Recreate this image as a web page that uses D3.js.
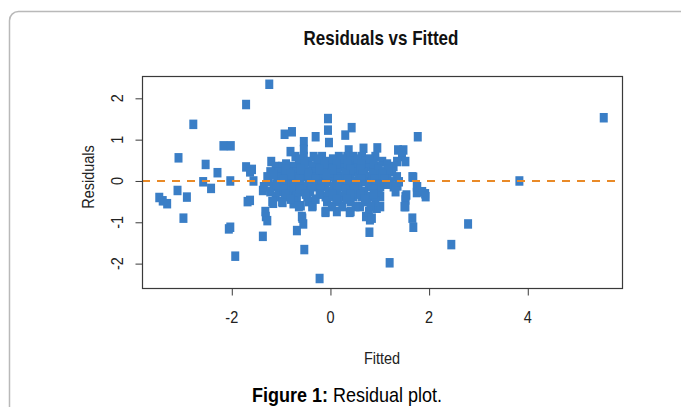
<!DOCTYPE html>
<html>
<head>
<meta charset="utf-8">
<script src="https://cdn.jsdelivr.net/npm/d3@7"></script>
<style>
  body { margin: 0; background: #fff; }
  svg { display: block; font-family: "Liberation Sans", Arial, sans-serif; }
</style>
</head>
<body>
<div id="display"></div>
<script>
// values (fitted, residual)
const outliers = [
  [-1.24, 2.34], [-1.71, 1.85], [-2.78, 1.37], [-2.17, 0.85], [-2.02, 0.85],
  [-3.08, 0.56], [-2.53, 0.40], [-2.29, 0.20], [-1.71, 0.34], [-1.59, 0.28],
  [-1.63, 0.22], [-2.58, -0.02], [-2.03, 0.00], [-2.42, -0.18], [-3.10, -0.23],
  [-2.91, -0.39], [-3.47, -0.40], [-3.40, -0.48], [-3.31, -0.55], [-2.98, -0.90],
  [-2.06, -1.16], [-2.03, -1.12], [-1.93, -1.82], [-1.68, -0.50], [-1.63, -0.47],
  [-1.56, 0.00], [-1.37, -0.23], [-1.37, -1.34], [-1.31, -0.86], [-1.28, -0.96],
  [-0.53, -1.66], [-0.68, -1.20], [-0.58, -0.86], [-0.55, -1.04], [-0.22, -2.36],
  [-1.16, -0.54], [-0.97, -0.52], [-0.75, -0.55], [-0.60, -0.60], [-0.36, -0.60],
  [-0.10, -0.76], [0.13, -0.74], [1.20, -1.98], [0.79, -1.24], [1.68, -1.12],
  [1.50, -0.62], [1.52, -0.46], [1.54, -0.34], [1.75, -0.28], [1.92, -0.31],
  [0.80, -0.94], [0.72, -0.86], [0.39, -0.76], [0.94, -0.66], [0.60, -0.62],
  [5.54, 1.53], [3.83, 0.00], [2.79, -1.04], [2.45, -1.54], [1.77, 1.07],
  [1.68, 0.09], [1.75, -0.14], [1.01, -0.62], [1.36, -0.12]
];

const upper = [
  [-0.05, 1.51], [-0.05, 1.23], [0.43, 1.29], [0.30, 1.11], [-0.93, 1.13],
  [-0.78, 1.19], [-0.30, 1.07], [-0.54, 0.95], [-0.03, 0.93], [-0.81, 0.71],
  [0.95, 0.80], [1.37, 0.75], [1.48, 0.75], [-0.54, 0.76], [0.67, 0.79],
  [0.37, 0.75]
];

// dense middle of the cloud, row by row
const cluster = [
  [-0.71, 0.59], [-0.54, 0.59], [-0.34, 0.59], [-0.17, 0.59], [0.17, 0.59], [0.34, 0.59], [0.47, 0.59], [0.64, 0.59], [0.91, 0.59], [1.45, 0.59],
  [-1.20, 0.47], [-0.64, 0.47], [-0.44, 0.47], [-0.27, 0.47], [-0.07, 0.47], [0.07, 0.47], [0.27, 0.47], [0.44, 0.47], [0.71, 0.47], [1.05, 0.47], [1.35, 0.47], [1.52, 0.47],
  [-1.11, 0.35], [-0.98, 0.35], [-0.74, 0.35], [-0.57, 0.35], [-0.37, 0.35], [-0.20, 0.35], [-0.03, 0.35], [0.20, 0.35], [0.37, 0.35], [0.54, 0.35], [0.78, 0.35], [0.98, 0.35], [1.28, 0.35],
  [-1.22, 0.22], [-1.05, 0.22], [-0.84, 0.22], [-0.68, 0.22], [-0.47, 0.22], [-0.30, 0.22], [-0.14, 0.22], [0.14, 0.22], [0.30, 0.22], [0.47, 0.22], [0.68, 0.22], [0.88, 0.22], [1.08, 0.22], [1.25, 0.22],
  [-1.28, 0.10], [-1.08, 0.10], [-0.91, 0.10], [-0.71, 0.10], [-0.54, 0.10], [-0.37, 0.10], [-0.17, 0.10], [0.00, 0.10], [0.20, 0.10], [0.41, 0.10], [0.57, 0.10], [0.74, 0.10], [0.95, 0.10], [1.15, 0.10], [1.35, 0.10], [1.66, 0.10],
  [-1.25, -0.02], [-1.01, -0.02], [-0.81, -0.02], [-0.61, -0.02], [-0.44, -0.02], [-0.27, -0.02], [-0.07, -0.02], [0.10, -0.02], [0.27, -0.02], [0.47, -0.02], [0.68, -0.02], [0.84, -0.02], [1.05, -0.02], [1.22, -0.02], [1.39, -0.02],
  [-1.35, -0.14], [-1.15, -0.14], [-0.88, -0.14], [-0.71, -0.14], [-0.51, -0.14], [-0.30, -0.14], [-0.10, -0.14], [0.07, -0.14], [0.24, -0.14], [0.41, -0.14], [0.57, -0.14], [0.78, -0.14], [1.01, -0.14], [1.28, -0.14], [1.76, -0.14],
  [-1.22, -0.26], [-1.05, -0.26], [-0.78, -0.26], [-0.57, -0.26], [-0.41, -0.26], [-0.03, -0.26], [0.14, -0.26], [0.34, -0.26], [0.51, -0.26], [0.68, -0.26], [0.98, -0.26], [1.32, -0.26], [1.86, -0.26],
  [-1.11, -0.38], [-0.88, -0.38], [-0.68, -0.38], [-0.47, -0.38], [-0.10, -0.38], [0.07, -0.38], [0.24, -0.38], [0.47, -0.38], [0.64, -0.38], [0.81, -0.38], [1.01, -0.38], [1.52, -0.38], [1.93, -0.38],
  [-1.18, -0.50], [-0.98, -0.50], [-0.74, -0.50], [-0.44, -0.50], [-0.07, -0.50], [0.17, -0.50], [0.41, -0.50], [0.74, -0.50], [0.91, -0.50],
  [-0.64, -0.62], [-0.37, -0.62], [0.03, -0.62], [0.24, -0.62], [0.51, -0.62], [0.81, -0.62], [1.52, -0.62],
  [-1.32, -0.74], [-0.10, -0.74], [0.41, -0.74], [0.78, -0.74],
  [-0.57, -0.90], [0.84, -0.90], [1.66, -0.90]
];

// points sitting between the rows above, where the cloud is solid
const core = [
  [-0.62, 0.53], [-0.25, 0.53], [0.05, 0.53], [0.25, 0.53], [0.55, 0.53], [0.80, 0.53],
  [-0.90, 0.41], [-0.52, 0.41], [-0.12, 0.41], [0.12, 0.41], [0.35, 0.41], [0.62, 0.41], [0.88, 0.41], [1.15, 0.41],
  [-0.92, 0.28], [-0.60, 0.28], [-0.22, 0.28], [0.05, 0.28], [0.40, 0.28], [0.60, 0.28], [0.97, 0.28], [1.18, 0.28],
  [-1.15, 0.16], [-0.80, 0.16], [-0.45, 0.16], [-0.08, 0.16], [0.30, 0.16], [0.65, 0.16], [0.85, 0.16], [1.05, 0.16],
  [-0.95, 0.04], [-0.62, 0.04], [-0.30, 0.04], [0.15, 0.04], [0.35, 0.04], [0.62, 0.04], [0.90, 0.04], [1.10, 0.04],
  [-1.10, -0.08], [-0.75, -0.08], [-0.38, -0.08], [-0.18, -0.08], [0.18, -0.08], [0.55, -0.08], [0.92, -0.08], [1.15, -0.08],
  [-0.95, -0.20], [-0.62, -0.20], [-0.20, -0.20], [0.30, -0.20], [0.48, -0.20], [0.88, -0.20],
  [-0.92, -0.32], [-0.50, -0.32], [-0.22, -0.32], [0.05, -0.32], [0.40, -0.32], [0.60, -0.32], [0.88, -0.32],
  [-0.80, -0.44], [-0.30, -0.44], [0.12, -0.44], [0.33, -0.44], [0.70, -0.44]
];

const xTicks = [-2, 0, 2, 4];
const yTicks = [-2, -1, 0, 1, 2];
const xDomain = [-3.82, 5.91];
const yDomain = [-2.59, 2.54];

const points = outliers.concat(upper, cluster, core);

const W = 681, H = 407;
const plot = { left: 142, right: 622, top: 76, bottom: 288 };
const blue = '#3a7ec6';
const orange = '#e98a27';
const ink = '#222';
const stretch = 1.18; // the reference text is drawn a bit tall

const svg = d3.select('#display')
  .append('svg')
  .attr('width', W)
  .attr('height', H);

function label(px, py, str, size, rot) {
  return svg.append('text')
    .attr('transform', `translate(${px},${py}) rotate(${rot || 0}) scale(1,${stretch})`)
    .attr('text-anchor', 'middle')
    .attr('dominant-baseline', 'central')
    .attr('font-size', size)
    .attr('fill', ink)
    .text(str);
}

// outer panel frame (runs off the right and bottom edges)
svg.append('rect')
  .attr('x', 9.5).attr('y', 11.5)
  .attr('width', 720).attr('height', 440)
  .attr('rx', 9)
  .attr('fill', 'none')
  .attr('stroke', '#b9b9b9')
  .attr('stroke-width', 1.5);

const x = d3.scaleLinear().domain(xDomain).range([plot.left, plot.right]);
const y = d3.scaleLinear().domain(yDomain).range([plot.bottom, plot.top]);

// points
const mw = 8, mh = 9.5;
svg.append('g')
  .selectAll('rect')
  .data(points)
  .join('rect')
  .attr('x', d => x(d[0]) - mw / 2)
  .attr('y', d => y(d[1]) - mh / 2)
  .attr('width', mw)
  .attr('height', mh)
  .attr('fill', blue);

// zero line over the cloud
svg.append('line')
  .attr('x1', plot.left).attr('x2', plot.right)
  .attr('y1', y(0)).attr('y2', y(0))
  .attr('stroke', orange)
  .attr('stroke-width', 2)
  .attr('stroke-dasharray', '8,7');

// box
svg.append('rect')
  .attr('x', plot.left + 0.5).attr('y', plot.top + 0.5)
  .attr('width', plot.right - plot.left).attr('height', plot.bottom - plot.top)
  .attr('fill', 'none')
  .attr('stroke', '#3a3a3a')
  .attr('stroke-width', 1.2);

// axes: ticks from d3, labels drawn by hand so they can be stretched
const xAxis = svg.append('g')
  .attr('transform', `translate(0,${plot.bottom + 0.5})`)
  .call(d3.axisBottom(x).tickValues(xTicks).tickSize(7).tickSizeOuter(0));
xAxis.select('.domain').remove();
xAxis.selectAll('text').remove();
xAxis.selectAll('line').attr('stroke', '#3a3a3a');

const yAxis = svg.append('g')
  .attr('transform', `translate(${plot.left + 0.5},0)`)
  .call(d3.axisLeft(y).tickValues(yTicks).tickSize(7).tickSizeOuter(0));
yAxis.select('.domain').remove();
yAxis.selectAll('text').remove();
yAxis.selectAll('line').attr('stroke', '#3a3a3a');

const fmt = d => String(d);
xTicks.forEach(t => label(x(t), 317.5, fmt(t), 14.5));
yTicks.forEach(t => label(117, y(t), fmt(t), 14.5, -90));

// titles
label(381, 38, 'Residuals vs Fitted', 17, 0)
  .attr('font-weight', 'bold')
  .attr('fill', '#111');
label(382, 358, 'Fitted', 14.5);
label(88, 177, 'Residuals', 14.5, -90);

// caption
const cap = svg.append('text')
  .attr('transform', `translate(347,395) scale(1,1.08)`)
  .attr('text-anchor', 'middle')
  .attr('dominant-baseline', 'central')
  .attr('font-size', 18)
  .attr('fill', '#000');
cap.append('tspan').attr('font-weight', 'bold').text('Figure 1:');
cap.append('tspan').text(' Residual plot.');
</script>
</body>
</html>
